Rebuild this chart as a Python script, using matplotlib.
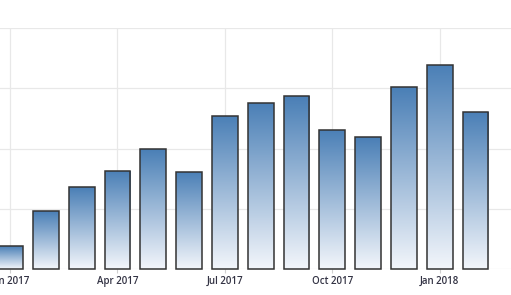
import numpy as np
import matplotlib
matplotlib.use("Agg")
import matplotlib.pyplot as plt
from matplotlib.colors import LinearSegmentedColormap
from matplotlib.patches import Rectangle

months = ["Jan 2017", "Feb 2017", "Mar 2017", "Apr 2017", "May 2017", "Jun 2017",
          "Jul 2017", "Aug 2017", "Sep 2017", "Oct 2017", "Nov 2017", "Dec 2017",
          "Jan 2018", "Feb 2018"]
values = [0.38, 0.96, 1.36, 1.63, 1.99, 1.61, 2.54, 2.76, 2.87, 2.31, 2.19, 3.02, 3.39, 2.61]
tick_pos = [0, 3, 6, 9, 12]
tick_labels = ["Jan 2017", "Apr 2017", "Jul 2017", "Oct 2017", "Jan 2018"]

fig = plt.figure(figsize=(5.11, 2.95), dpi=100)
ax = fig.add_axes([0, 26/295, 1, 241/295])
ax.set_xlim(-0.28, 13.99)
ax.set_ylim(0, 4.0)

cmap = LinearSegmentedColormap.from_list("g", ["#f3f6fb", "#4a7fb6"])
grad = np.linspace(0, 1, 256).reshape(-1, 1)
w = 0.72
x = np.arange(len(values))
for xi, v in zip(x, values):
    rect = Rectangle((xi - w/2, 0), w, v, facecolor="none", edgecolor="#333333",
                     linewidth=1.1, zorder=3, clip_on=False)
    ax.add_patch(rect)
    im = ax.imshow(grad, extent=(xi - w/2, xi + w/2, 0, v), origin="lower",
                   cmap=cmap, aspect="auto", zorder=2)
    im.set_clip_path(rect)

ax.set_yticks([0, 1, 2, 3, 4])
ax.set_xticks(tick_pos)
ax.set_xticklabels(tick_labels, fontsize=7, color="#333344",
                   fontfamily="Open Sans", fontweight="semibold")
ax.tick_params(axis="x", length=3, color="#d0d0d0", pad=2)
ax.tick_params(axis="y", length=0, labelleft=False)
ax.grid(True, color="#e8e8e8", linewidth=0.9, zorder=0)
ax.set_axisbelow(True)
for s in ax.spines.values():
    s.set_visible(False)

fig.savefig("out.png", dpi=100)
